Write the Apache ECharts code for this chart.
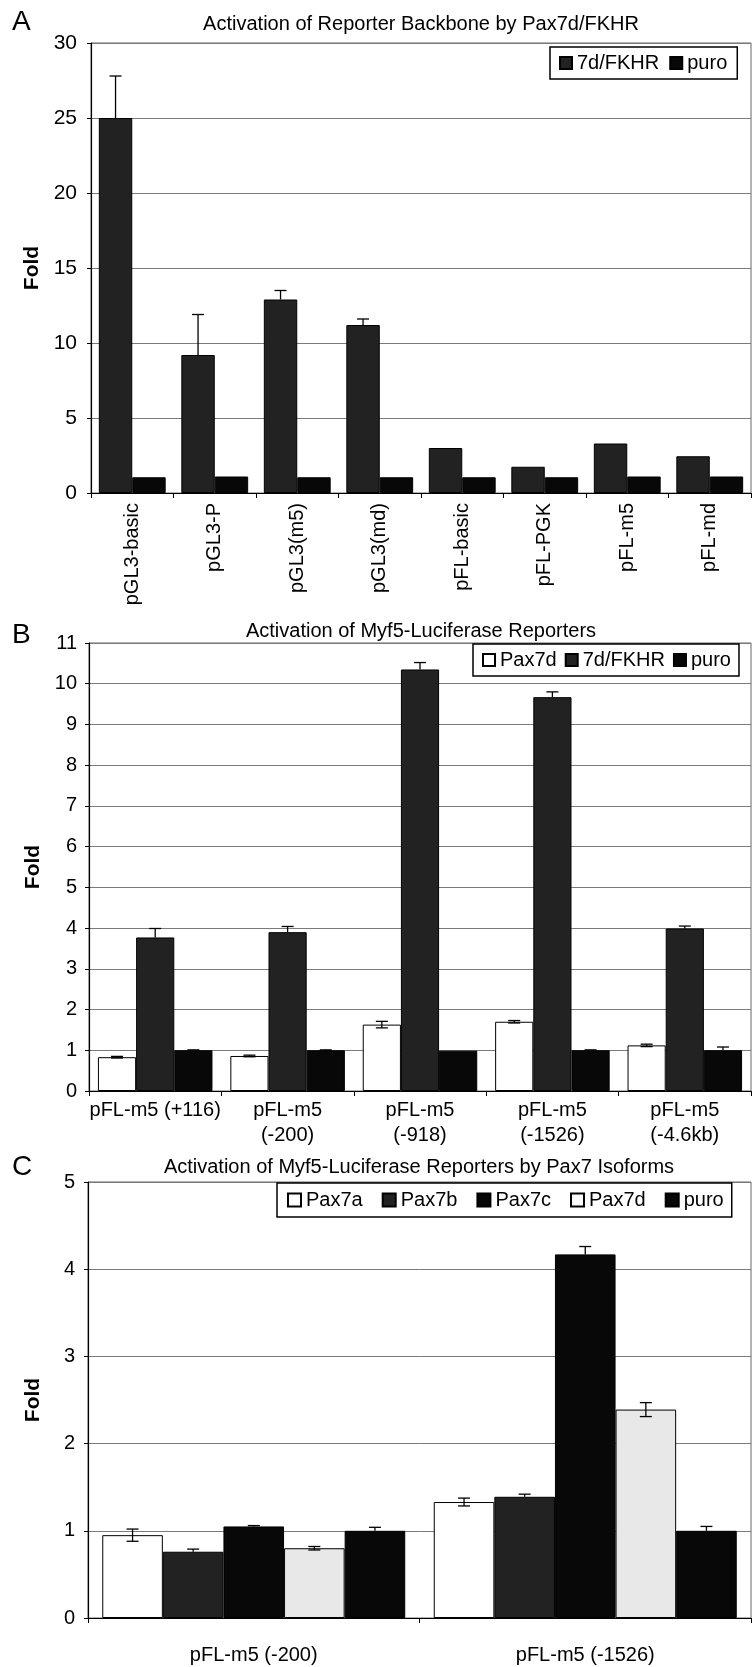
<!DOCTYPE html>
<html>
<head>
<meta charset="utf-8">
<script src="https://cdn.jsdelivr.net/npm/echarts@6/dist/echarts.min.js"></script>
<style>
html,body{margin:0;padding:0;background:#fff;}
#chart{width:752px;height:1667px;}
</style>
</head>
<body>
<div id="chart"></div>
<script>
// ---------- Panel A ----------
var categoriesA = ['pGL3-basic', 'pGL3-P', 'pGL3(m5)', 'pGL3(md)', 'pFL-basic', 'pFL-PGK', 'pFL-m5', 'pFL-md'];
var fkhrA = [25.0, 9.2, 12.9, 11.2, 3.0, 1.75, 3.3, 2.45];
var fkhrErrA = [2.8, 2.7, 0.6, 0.4, 0, 0, 0, 0];
var puroA = [1.05, 1.1, 1.05, 1.05, 1.05, 1.05, 1.1, 1.1];
var puroErrA = [0, 0, 0, 0, 0, 0, 0, 0];
var ticksA = [0, 5, 10, 15, 20, 25, 30];

// ---------- Panel B ----------
var categoriesB = ['pFL-m5 (+116)', 'pFL-m5\n(-200)', 'pFL-m5\n(-918)', 'pFL-m5\n(-1526)', 'pFL-m5\n(-4.6kb)'];
var pax7dB = [0.83, 0.86, 1.63, 1.70, 1.12];
var pax7dErrB = [0.02, 0.02, 0.08, 0.03, 0.03];
var fkhrB = [3.77, 3.90, 10.35, 9.67, 3.99];
var fkhrErrB = [0.22, 0.14, 0.17, 0.13, 0.06];
var puroB = [1.0, 1.0, 0.99, 1.0, 1.0];
var puroErrB = [0.01, 0.01, 0, 0.01, 0.08];
var ticksB = [0, 1, 2, 3, 4, 5, 6, 7, 8, 9, 10, 11];

// ---------- Panel C ----------
var categoriesC = ['pFL-m5 (-200)', 'pFL-m5 (-1526)'];
var pax7aC = [0.95, 1.33];
var pax7aErrC = [0.07, 0.045];
var pax7bC = [0.76, 1.39];
var pax7bErrC = [0.03, 0.03];
var pax7cC = [1.05, 4.17];
var pax7cErrC = [0.01, 0.09];
var pax7dC = [0.80, 2.39];
var pax7dErrC = [0.02, 0.08];
var puroC = [1.0, 1.0];
var puroErrC = [0.04, 0.05];
var ticksC = [0, 1, 2, 3, 4, 5];

var FONT = 'Liberation Sans, Arial, Helvetica, sans-serif';
var DARK = '#222222', BLACK = '#080808', WHITE = '#ffffff', LIGHT = '#e8e8e8';

function makeErr(idx, n, gap, both) {
  return function (params, api) {
    var cat = api.value(0), v = api.value(1), e = api.value(2);
    if (!e) return null;
    var band = api.size([1, 0])[0];
    var used = band * (1 - gap);
    var bw = used / n;
    var c0 = api.coord([cat, v]);
    var x = c0[0] - used / 2 + bw * (idx + 0.5);
    var yh = api.coord([cat, v + e])[1];
    var yl = both ? api.coord([cat, v - e])[1] : c0[1];
    var cw = 6;
    var st = { stroke: '#000', lineWidth: 1.3 };
    var kids = [
      { type: 'line', shape: { x1: x, y1: yh, x2: x, y2: yl }, style: st },
      { type: 'line', shape: { x1: x - cw, y1: yh, x2: x + cw, y2: yh }, style: st }
    ];
    if (both) kids.push({ type: 'line', shape: { x1: x - cw, y1: yl, x2: x + cw, y2: yl }, style: st });
    return { type: 'group', children: kids };
  };
}

function errSeries(gi, vals, errs, idx, n, gap, both) {
  return {
    type: 'custom', xAxisIndex: gi, yAxisIndex: gi, z: 5, silent: true,
    renderItem: makeErr(idx, n, gap, both),
    encode: { x: 0, y: 1 },
    data: vals.map(function (v, i) { return [i, v, errs[i]]; })
  };
}

function barSeries(gi, name, vals, color, gap) {
  return {
    type: 'bar', name: name, xAxisIndex: gi, yAxisIndex: gi,
    barCategoryGap: gap, barGap: '0%',
    itemStyle: { color: color, borderColor: '#000', borderWidth: 1 },
    data: vals
  };
}

var gapA = 0.19, gapB = 0.135, gapC = 0.086;

function yAxisCfg(gi, max, interval, fs, margin) {
  return {
    type: 'value', gridIndex: gi, min: 0, max: max, interval: interval,
    name: 'Fold', nameLocation: 'middle', nameGap: 44,
    nameTextStyle: { fontSize: 21, fontWeight: 'bold', color: '#000', fontFamily: FONT },
    axisLine: { show: true, lineStyle: { color: '#000', width: 1.2 } },
    axisTick: { show: true, length: 4, lineStyle: { color: '#000' } },
    axisLabel: { fontSize: fs, color: '#000', margin: margin, fontFamily: FONT },
    splitLine: { show: true, lineStyle: { color: '#7a7a7a', width: 1 } }
  };
}

function xAxisCfg(gi, cats, labelCfg) {
  var lab = Object.assign({ color: '#000', fontSize: 20, fontFamily: FONT, interval: 0 }, labelCfg);
  return {
    type: 'category', gridIndex: gi, data: cats,
    axisLine: { show: true, lineStyle: { color: '#000', width: 1.2 } },
    axisTick: { show: true, length: 5, lineStyle: { color: '#000' } },
    axisLabel: lab,
    splitLine: { show: false }
  };
}

var gridBase = { show: true, borderColor: '#666', borderWidth: 1, containLabel: false, outerBoundsMode: 'none' };

var option = {
  animation: false,
  backgroundColor: '#fff',
  textStyle: { fontFamily: FONT },
  title: [
    { text: 'Activation of Reporter Backbone by Pax7d/FKHR', left: 421, top: 14, textAlign: 'center', padding: 0,
      textStyle: { fontSize: 20, fontWeight: 'normal', color: '#000', fontFamily: FONT } },
    { text: 'Activation of Myf5-Luciferase Reporters', left: 421, top: 621, textAlign: 'center', padding: 0,
      textStyle: { fontSize: 20, fontWeight: 'normal', color: '#000', fontFamily: FONT } },
    { text: 'Activation of Myf5-Luciferase Reporters by Pax7 Isoforms', left: 419, top: 1157, textAlign: 'center', padding: 0,
      textStyle: { fontSize: 20, fontWeight: 'normal', color: '#000', fontFamily: FONT } }
  ],
  legend: [
    { data: ['7d/FKHR', 'puro'], left: 550, top: 47, orient: 'horizontal', icon: 'rect',
      itemWidth: 12, itemHeight: 12, itemGap: 10, padding: [6, 10, 6, 9],
      borderColor: '#000', borderWidth: 1.5, backgroundColor: '#fff', selectedMode: false,
      textStyle: { fontSize: 20, color: '#000', fontFamily: FONT } },
    { data: ['Pax7d', '7d/FKHR', 'puro'], left: 473, top: 644, orient: 'horizontal', icon: 'rect',
      itemWidth: 12, itemHeight: 12, itemGap: 8, padding: [6, 8, 6, 9],
      borderColor: '#000', borderWidth: 1.5, backgroundColor: '#fff', selectedMode: false,
      textStyle: { fontSize: 20, color: '#000', fontFamily: FONT } },
    { data: ['Pax7a', 'Pax7b', 'Pax7c', 'Pax7d', 'puro'], left: 277, top: 1183, orient: 'horizontal', icon: 'rect',
      itemWidth: 13, itemHeight: 13, itemGap: 19, padding: [7, 8, 7, 10],
      borderColor: '#000', borderWidth: 1.5, backgroundColor: '#fff', selectedMode: false,
      textStyle: { fontSize: 20, color: '#000', fontFamily: FONT } }
  ],
  grid: [
    Object.assign({ left: 91, top: 43, width: 660, height: 450 }, gridBase),
    Object.assign({ left: 89, top: 643, width: 662, height: 448 }, gridBase),
    Object.assign({ left: 88, top: 1182, width: 663, height: 436 }, gridBase)
  ],
  xAxis: [
    xAxisCfg(0, categoriesA, { rotate: 90, margin: 10, fontSize: 20 }),
    xAxisCfg(1, categoriesB, { margin: 7, lineHeight: 25, fontSize: 20 }),
    xAxisCfg(2, categoriesC, { margin: 27, fontSize: 20 })
  ],
  yAxis: [
    yAxisCfg(0, ticksA[ticksA.length - 1], ticksA[1] - ticksA[0], 21, 14),
    yAxisCfg(1, ticksB[ticksB.length - 1], ticksB[1] - ticksB[0], 20, 12),
    yAxisCfg(2, ticksC[ticksC.length - 1], ticksC[1] - ticksC[0], 20, 13)
  ],
  graphic: [
    { type: 'text', left: 12, top: 8, style: { text: 'A', fontSize: 28, fill: '#000', fontFamily: FONT } },
    { type: 'text', left: 12, top: 621, style: { text: 'B', fontSize: 28, fill: '#000', fontFamily: FONT } },
    { type: 'text', left: 12, top: 1153, style: { text: 'C', fontSize: 28, fill: '#000', fontFamily: FONT } }
  ],
  series: [
    barSeries(0, '7d/FKHR', fkhrA, DARK, '19%'),
    barSeries(0, 'puro', puroA, BLACK, '19%'),
    errSeries(0, fkhrA, fkhrErrA, 0, 2, gapA, false),
    errSeries(0, puroA, puroErrA, 1, 2, gapA, false),

    barSeries(1, 'Pax7d', pax7dB, WHITE, '13.5%'),
    barSeries(1, '7d/FKHR', fkhrB, DARK, '13.5%'),
    barSeries(1, 'puro', puroB, BLACK, '13.5%'),
    errSeries(1, pax7dB, pax7dErrB, 0, 3, gapB, true),
    errSeries(1, fkhrB, fkhrErrB, 1, 3, gapB, false),
    errSeries(1, puroB, puroErrB, 2, 3, gapB, false),

    barSeries(2, 'Pax7a', pax7aC, WHITE, '8.6%'),
    barSeries(2, 'Pax7b', pax7bC, DARK, '8.6%'),
    barSeries(2, 'Pax7c', pax7cC, BLACK, '8.6%'),
    barSeries(2, 'Pax7d', pax7dC, LIGHT, '8.6%'),
    barSeries(2, 'puro', puroC, BLACK, '8.6%'),
    errSeries(2, pax7aC, pax7aErrC, 0, 5, gapC, true),
    errSeries(2, pax7bC, pax7bErrC, 1, 5, gapC, false),
    errSeries(2, pax7cC, pax7cErrC, 2, 5, gapC, false),
    errSeries(2, pax7dC, pax7dErrC, 3, 5, gapC, true),
    errSeries(2, puroC, puroErrC, 4, 5, gapC, false)
  ]
};

var chart = echarts.init(document.getElementById('chart'), null, { renderer: 'canvas' });
chart.setOption(option);
</script>
</body>
</html>
